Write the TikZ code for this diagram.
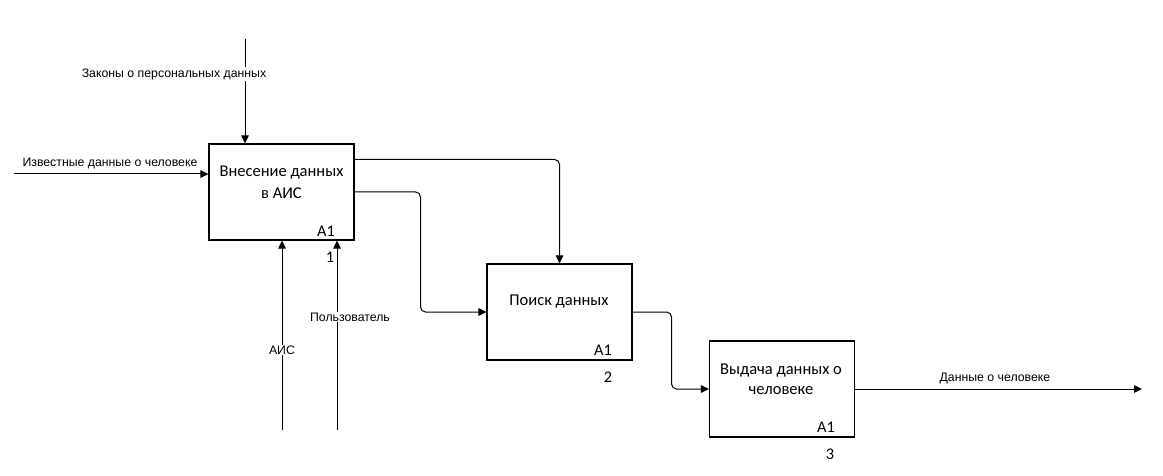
\documentclass[tikz,border=0pt]{standalone}
\usepackage{fontspec}
\setmainfont{Carlito}
\newfontfamily\lblfont{Liberation Sans}
\usetikzlibrary{arrows.meta,calc}
\begin{document}
\begin{tikzpicture}[x=1pt,y=-1pt,
  line width=1pt,
  >={Triangle[length=8pt,width=7.5pt]},
  func/.style={draw,line width=1.1pt,minimum width=145pt,minimum height=96pt,inner sep=0pt},
  ftext/.style={font=\fontsize{16.5}{20}\selectfont,inner sep=0pt},
  conn/.style={->,rounded corners=5pt},
  lbl/.style={font=\lblfont\fontsize{12.3}{14}\selectfont,inner sep=1pt},
  ctl/.style={lbl,fill=white},
  aid/.style={font=\fontsize{16.3}{18}\selectfont,inner sep=0pt},
]
\useasboundingbox (0,0) rectangle (1163,476);

\node[func] (b1) at (281.5,192) {};
\node[func] (b2) at (559.5,312) {};
\node[func] (b3) at (782,389) {};

\node[ftext] (t1a) at (281.5,173) {Внесение данных};
\node[ftext] (t1b) at (281.5,193) {в АИС};
\node[ftext] (t2) at (559,302) {Поиск данных};
\node[ftext] (t3a) at (781,371) {Выдача данных о};
\node[ftext] (t3b) at (781,391) {человеке};

\node[aid] (a1) at (326,231) {A1};
\node[aid] (n1) at (330,257) {1};
\node[aid] (a2) at (603,350) {A1};
\node[aid] (n2) at (608,377) {2};
\node[aid] (a3) at (826,427) {A1};
\node[aid] (n3) at (830,454) {3};

% control
\coordinate (c1) at (245,39);
\draw[->] (c1) -- (c1 |- b1.north);
\node[ctl] (lc1) at (174,74) {Законы о персональных данных};

% input
\coordinate (i1) at (14,174);
\draw[->] (i1) -- (i1 -| b1.west);
\node[lbl] (li1) at (110,163) {Известные данные о человеке};

% mechanisms
\coordinate (m1) at (282,430);
\coordinate (m2) at (337,430);
\draw[->] (m1) -- (m1 |- b1.south);
\draw[->] (m2) -- (m2 |- b1.south);
\node[ctl] (lm1) at (282,350) {АИС};
\node[ctl] (lm2) at (350,317) {Пользователь};

% outputs
\coordinate (b1o1) at ($(b1.north east)+(0,16)$);
\draw[conn] (b1o1) -| (b2.north);
\draw[conn] (b1.east) -- ++(66,0) |- (b2.west);
\draw[conn] (b2.east) -- ++(39,0) |- (b3.west);
\coordinate (out) at (1142,389);
\draw[->] (b3.east) -- (out);
\node[lbl] (lo) at (995,378) {Данные о человеке};
\end{tikzpicture}
\end{document}
